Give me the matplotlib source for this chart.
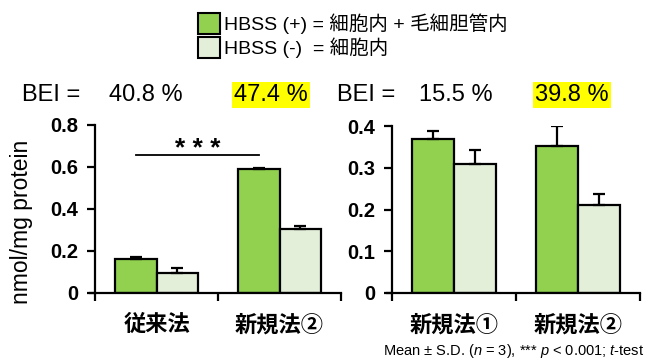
import matplotlib
matplotlib.use("Agg")
import matplotlib.pyplot as plt
from matplotlib.patches import Rectangle
import numpy as np

plt.rcParams['font.family'] = ['Liberation Sans', 'Noto Sans CJK JP', 'DejaVu Sans']
plt.rcParams['mathtext.fontset'] = 'custom'
plt.rcParams['mathtext.rm'] = 'Liberation Sans'
plt.rcParams['mathtext.it'] = 'Liberation Sans:italic'

# data
left_groups = ['従来法', '新規法②']
left_plus = [0.16, 0.59]
left_plus_sd = [0.012, 0.006]
left_minus = [0.095, 0.305]
left_minus_sd = [0.024, 0.013]

right_groups = ['新規法①', '新規法②']
right_plus = [0.37, 0.352]
right_plus_sd = [0.018, 0.048]
right_minus = [0.31, 0.21]
right_minus_sd = [0.033, 0.026]

bei_left = ['40.8 %', '47.4 %']
bei_right = ['15.5 %', '39.8 %']

legend_labels = ['HBSS (+) = 細胞内 + 毛細胆管内', 'HBSS (-)  = 細胞内']

c_plus = '#92D050'
c_minus = '#E4EFDA'

W, H = 647, 360
fig = plt.figure(figsize=(W / 100, H / 100), dpi=100)


def fx(px):
    return px / W


def fy(py):
    return 1 - py / H


def panel(rect, groups, plus, plus_sd, minus, minus_sd, ymax, ystep):
    ax = fig.add_axes(rect)
    x = np.arange(len(groups)) + 0.5
    bw = 0.335
    for xs, vals, sd, col in [(x - bw / 2, plus, plus_sd, c_plus),
                              (x + bw / 2, minus, minus_sd, c_minus)]:
        ax.bar(xs, vals, width=bw, color=col, edgecolor='black', linewidth=1.6, zorder=2)
        ax.errorbar(xs, vals, yerr=[np.zeros(len(sd)), sd], fmt='none', ecolor='black',
                    elinewidth=1.6, capsize=4, capthick=1.6, zorder=3)
    ax.set_xlim(0, len(groups))
    ax.set_ylim(0, ymax)
    ax.set_yticks(np.arange(0, ymax + ystep / 2, ystep))
    ax.set_yticklabels(['0'] + ['%g' % v for v in np.arange(ystep, ymax + ystep / 2, ystep)])
    ax.set_xticks(np.arange(len(groups) + 1))
    ax.set_xticklabels([])
    ax.set_xticks(x, minor=True)
    ax.set_xticklabels(groups, minor=True, fontsize=16, fontweight='bold')
    ax.tick_params(axis='x', which='major', direction='out', length=6, width=1.6)
    ax.tick_params(axis='x', which='minor', length=0, pad=16)
    ax.tick_params(axis='y', direction='out', length=6, width=1.6, labelsize=14.5, pad=6)
    for lab in ax.get_yticklabels():
        lab.set_fontweight('bold')
    for s in ['top', 'right']:
        ax.spines[s].set_visible(False)
    for s in ['left', 'bottom']:
        ax.spines[s].set_linewidth(1.6)
    ax.spines['bottom'].set_bounds(-0.04, len(groups))
    return ax, x, bw


axL, xL, bw = panel([fx(95), fy(293), fx(246), (293 - 125) / H],
                    left_groups, left_plus, left_plus_sd, left_minus, left_minus_sd, 0.8, 0.2)
axR, xR, _ = panel([fx(392), fy(293), fx(248), (293 - 126) / H],
                   right_groups, right_plus, right_plus_sd, right_minus, right_minus_sd, 0.4, 0.1)

# significance bar between the HBSS(+) bars
sig_y = 0.657
x0, x1 = xL[0] - bw / 2, xL[1] - bw / 2
axL.plot([x0, x1], [sig_y, sig_y], color='black', lw=1.3, clip_on=False)
axL.text((x0 + x1) / 2, sig_y - 0.03, '* * *', ha='center', va='bottom',
         fontsize=19, fontweight='bold')

fig.text(fx(22), fy(222), 'nmol/mg protein', rotation=90, ha='center', va='center', fontsize=16.5)

# BEI row
hl = dict(facecolor='#FFFF00', edgecolor='none', pad=1.5)
fig.text(fx(22), fy(95), 'BEI =', ha='left', va='center', fontsize=17)
fig.text(fx(109), fy(95), bei_left[0], ha='left', va='center', fontsize=17)
fig.text(fx(234), fy(95), bei_left[1], ha='left', va='center', fontsize=17, bbox=hl)
fig.text(fx(337), fy(95), 'BEI =', ha='left', va='center', fontsize=17)
fig.text(fx(419), fy(95), bei_right[0], ha='left', va='center', fontsize=17)
fig.text(fx(535), fy(95), bei_right[1], ha='left', va='center', fontsize=17, bbox=hl)

# legend
for i, (lab, col) in enumerate(zip(legend_labels, [c_plus, c_minus])):
    top = 13 + i * 24
    fig.patches.append(Rectangle((fx(198), fy(top + 21)), fx(22), 21 / H,
                                 facecolor=col, edgecolor='black', linewidth=1.5,
                                 transform=fig.transFigure))
    fig.text(fx(224), fy(top + 11), lab, ha='left', va='center', fontsize=14)

fig.text(fx(644), fy(351),
         r'Mean $\pm$ S.D. ($\it{n}$ = 3), *** $\it{p}$ < 0.001; $\it{t}$-test',
         ha='right', va='center', fontsize=10.5)

fig.savefig('out.png', dpi=100)
